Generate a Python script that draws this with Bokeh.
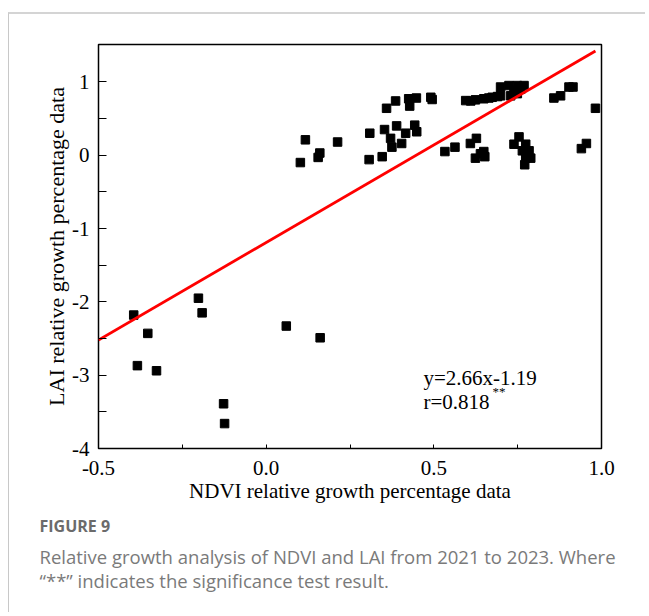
from bokeh.plotting import figure
from bokeh.models import FixedTicker, Label, Range1d, Title, InlineStyleSheet
from bokeh.embed import file_html
from bokeh.resources import INLINE

# ---- data ----
ndvi = [-0.395, -0.353, -0.384, -0.327, -0.202, -0.191, -0.127, -0.124, 0.060, 0.161,
        0.117, 0.213, 0.160, 0.155, 0.102, 0.309, 0.307, 0.346, 0.353, 0.389, 0.371,
        0.375, 0.404, 0.416, 0.443, 0.449, 0.359, 0.386, 0.428, 0.425, 0.448, 0.491,
        0.495, 0.533,
        0.595, 0.610, 0.624, 0.649, 0.664, 0.674, 0.690, 0.699, 0.699, 0.724, 0.739,
        0.749, 0.759, 0.769, 0.749, 0.729, 0.858, 0.878, 0.903, 0.915, 0.982,
        0.563, 0.609, 0.627, 0.624, 0.649, 0.639, 0.652, 0.739, 0.754, 0.774, 0.784,
        0.774, 0.771, 0.789, 0.764, 0.940, 0.955]
lai = [-2.18, -2.43, -2.87, -2.94, -1.95, -2.15, -3.39, -3.66, -2.33, -2.49,
       0.21, 0.18, 0.03, -0.03, -0.10, 0.30, -0.06, -0.02, 0.35, 0.40, 0.23,
       0.11, 0.16, 0.30, 0.41, 0.32, 0.64, 0.74, 0.67, 0.77, 0.78, 0.79,
       0.76, 0.05,
       0.745, 0.74, 0.755, 0.77, 0.78, 0.79, 0.80, 0.81, 0.93, 0.95, 0.88,
       0.95, 0.90, 0.95, 0.84, 0.81, 0.78, 0.81, 0.93, 0.93, 0.64,
       0.11, 0.16, 0.23, -0.04, 0.05, 0.02, -0.02, 0.15, 0.25, 0.15, 0.06,
       -0.04, -0.13, -0.04, 0.06, 0.09, 0.16]

slope = 2.66
intercept = -1.19
fit_x = [-0.5, 0.982]

x_ticks = [-0.5, 0.0, 0.5, 1.0]
x_tick_labels = ["-0.5", "0.0", "0.5", "1.0"]
x_minor = [-0.25, 0.25, 0.75]
y_ticks = [-4, -3, -2, -1, 0, 1]
y_tick_labels = ["-4", "-3", "-2", "-1", "0", "1"]
y_minor = [-3.5, -2.5, -1.5, -0.5, 0.5]

x_title = "NDVI relative growth percentage data"
y_title = "LAI relative growth percentage data"
eq_text = "y=2.66x-1.19"
r_text = "r=0.818"
sig_text = "**"
fig_label = "FIGURE 9"
caption1 = "Relative growth analysis of NDVI and LAI from 2021 to 2023. Where"
caption2 = "\u201c**\u201d indicates the significance test result."

# ---- geometry (page pixels) ----
W, H = 645, 612
FL, FR, FT, FB = 98, 601, 44, 448     # frame in canvas pixels
X0, X1 = -0.5, 1.0
Y0, Y1 = -4.0, 1.51


def cx(px):  # page px -> data x
    return X0 + (px - FL) / (FR - FL) * (X1 - X0)


def cy(py):  # page px -> data y
    return Y0 + (FB - py) / (FB - FT) * (Y1 - Y0)


border_css = InlineStyleSheet(css="""
:host { position: relative; }
:host::after {
  content: ''; position: absolute; left: 8px; top: 12px; right: 0; bottom: 0;
  border-left: 1px solid #c8c8c8; border-top: 2px solid #d4d4d4;
  pointer-events: none; z-index: 5;
}
""")

p = figure(width=W, height=H, output_backend="svg", toolbar_location=None,
           x_range=Range1d(X0, X1), y_range=Range1d(Y0, Y1),
           min_border_left=FL, min_border_right=W - FR,
           min_border_top=FT, min_border_bottom=H - FB,
           stylesheets=[border_css])
p.grid.visible = False
p.background_fill_color = "white"
p.border_fill_color = "white"
p.outline_line_color = "black"
p.outline_line_width = 1.5

serif = "Liberation Serif"

p.xaxis.ticker = FixedTicker(ticks=x_ticks, minor_ticks=x_minor)
p.yaxis.ticker = FixedTicker(ticks=y_ticks, minor_ticks=y_minor)
p.xaxis.major_label_overrides = {t: l for t, l in zip(x_ticks, x_tick_labels)}
p.yaxis.major_label_overrides = {t: l for t, l in zip(y_ticks, y_tick_labels)}

for ax in (p.xaxis[0], p.yaxis[0]):
    ax.axis_line_color = None
    ax.major_tick_line_color = "black"
    ax.minor_tick_line_color = "black"
    ax.major_tick_out = 0
    ax.minor_tick_out = 0
    ax.major_label_text_font = serif
    ax.major_label_text_font_size = "21px"
    ax.major_label_text_color = "black"
    ax.axis_label_text_font = serif
    ax.axis_label_text_font_style = "normal"
    ax.axis_label_text_color = "black"

p.xaxis.axis_label_text_font_size = "21px"
p.yaxis.axis_label_text_font_size = "22px"
p.xaxis.major_tick_in = 4
p.xaxis.minor_tick_in = 4
p.yaxis.major_tick_in = 8
p.yaxis.minor_tick_in = 8
p.xaxis.major_label_standoff = 12
p.yaxis.major_label_standoff = 9
p.xaxis.axis_label = x_title
p.yaxis.axis_label = y_title
p.xaxis.axis_label_standoff = 1
p.yaxis.axis_label_standoff = 0

# scatter points
p.scatter(ndvi, lai, marker="square", size=8.5, color="black")

# regression line
fit_y = [slope * v + intercept for v in fit_x]
p.line(fit_x, fit_y, line_color="red", line_width=2.8)

# equation texts
p.add_layout(Label(x=cx(423), y=cy(377), text=eq_text, text_font=serif,
                   text_font_size="21px", text_color="black", text_baseline="alphabetic"))
p.add_layout(Label(x=cx(423), y=cy(401), text=r_text, text_font=serif,
                   text_font_size="21px", text_color="black", text_baseline="alphabetic"))
p.add_layout(Label(x=cx(492), y=cy(391), text=sig_text, text_font=serif,
                   text_font_size="13px", text_color="black", text_baseline="alphabetic"))

# caption as stacked titles below the x axis
cap_off = 39 - FL
p.add_layout(Title(text=fig_label, align="left", offset=cap_off, standoff=14,
                   text_font="Open Sans", text_font_size="16px", text_font_style="bold",
                   text_color="#6b6b6b"), "below")
p.add_layout(Title(text=caption1, align="left", offset=cap_off, standoff=-3.5,
                   text_font="Open Sans", text_font_size="18.5px", text_font_style="normal",
                   text_color="#7a7a7a"), "below")
p.add_layout(Title(text=caption2, align="left", offset=cap_off, standoff=-4.2,
                   text_font="Open Sans", text_font_size="18.5px", text_font_style="normal",
                   text_color="#7a7a7a"), "below")

open("out.html", "w").write(file_html(p, INLINE))
